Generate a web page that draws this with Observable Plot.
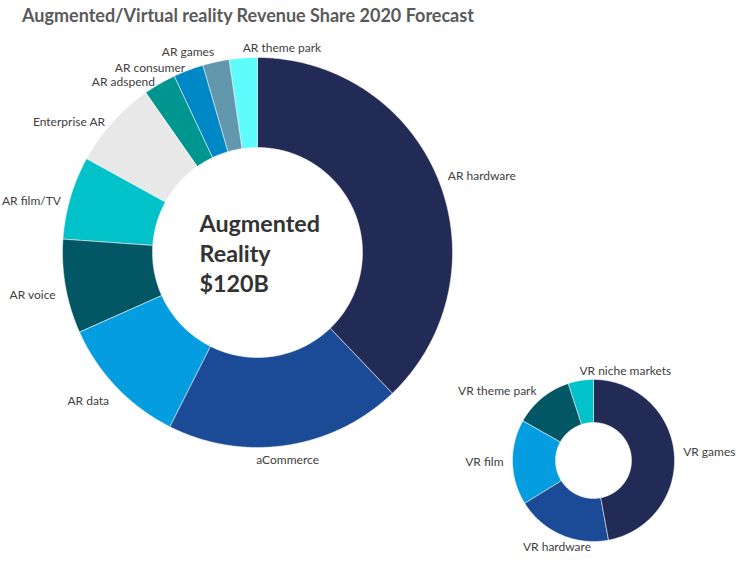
<!DOCTYPE html>
<html>
<head>
<meta charset="utf-8">
<script src="https://cdn.jsdelivr.net/npm/d3@7"></script>
<script src="https://cdn.jsdelivr.net/npm/@observablehq/plot@0.6"></script>
<style>
  html, body { margin: 0; padding: 0; background: #fff; }
  #title { font-family: Lato, "Open Sans", sans-serif; font-weight: bold; font-size: 18px; color: #5a5a5a;
           height: 30px; line-height: 31px; padding-left: 22px; white-space: nowrap; }
  #chart svg { display: block; }
</style>
</head>
<body>
<div id="title">Augmented/Virtual reality Revenue Share 2020 Forecast</div>
<div id="chart"></div>
<script>
// ---- data (revenue share, % of each market) ----
const arLabels = ["AR hardware", "aCommerce", "AR data", "AR voice", "AR film/TV", "Enterprise AR", "AR adspend", "AR consumer", "AR games", "AR theme park"];
const arShares = [37.9, 19.6, 10.9, 7.8, 6.9, 7.3, 2.7, 2.5, 2.2, 2.3];
const arColors = ["#222a56", "#1b4a97", "#049ddf", "#035664", "#00c2c8", "#e8e8e8", "#009690", "#0087c6", "#6297ad", "#5ffcfd"];

const vrLabels = ["VR games", "VR hardware", "VR film", "VR theme park", "VR niche markets"];
const vrShares = [47.1, 19.1, 17.0, 11.8, 5.0];
const vrColors = ["#222a56", "#1b4a97", "#049ddf", "#035664", "#00c2c8"];

const centerLines = ["Augmented", "Reality", "$120B"];

// ---- layout ----
const W = 752, H = 565, TOP = 30;
const AR = {cx: 257, cy: 252, R: 195, r: 105, gap: 10, endDy: 7};
const VR = {cx: 593, cy: 460, R: 81, r: 38, gap: 9, endDy: 0};
const FONT = "Lato, 'Open Sans', sans-serif";

function donut(labels, shares, colors, g) {
  const pie = d3.pie().sort(null).value(d => d)(shares);
  const slices = [], labelPts = [];
  pie.forEach((p, i) => {
    const a0 = p.startAngle, a1 = p.endAngle;
    const n = Math.max(4, Math.ceil((a1 - a0) / (Math.PI / 360)));
    const pts = [];
    for (let k = 0; k <= n; k++) {
      const a = a0 + (a1 - a0) * k / n;
      pts.push({x: g.cx + g.R * Math.sin(a), y: g.cy - g.R * Math.cos(a)});
    }
    for (let k = n; k >= 0; k--) {
      const a = a0 + (a1 - a0) * k / n;
      pts.push({x: g.cx + g.r * Math.sin(a), y: g.cy - g.r * Math.cos(a)});
    }
    slices.push({pts, color: colors[i]});
    const m = (a0 + a1) / 2, s = Math.sin(m), c = Math.cos(m);
    const rl = g.R + g.gap;
    let anchor, line, dy = 0;
    if (c < -0.85) { anchor = "middle"; line = "top"; }
    else if (s < -0.2) { anchor = "end"; line = "middle"; if (c < 0.95) dy = g.endDy; }
    else { anchor = "start"; line = "middle"; }
    labelPts.push({x: g.cx + rl * s, y: g.cy - rl * c + dy, text: labels[i], anchor, line});
  });
  return {slices, labelPts};
}

const ar = donut(arLabels, arShares, arColors, AR);
const vr = donut(vrLabels, vrShares, vrColors, VR);

const sliceMarks = [...ar.slices, ...vr.slices].map(s =>
  Plot.line(s.pts, {x: "x", y: "y", fill: s.color, stroke: "#ffffff", strokeWidth: 0.5, curve: "linear-closed"})
);

const allLabels = [...ar.labelPts, ...vr.labelPts];
const labelMarks = [];
for (const anchor of ["start", "end", "middle"]) {
  for (const line of ["top", "middle", "bottom"]) {
    const d = allLabels.filter(l => l.anchor === anchor && l.line === line);
    if (d.length) labelMarks.push(Plot.text(d, {x: "x", y: "y", text: "text", textAnchor: anchor, lineAnchor: line,
      fontSize: 12, fill: "#404040", fontFamily: FONT}));
  }
}

const chart = Plot.plot({
  width: W, height: H - TOP, margin: 0,
  style: {background: "#fff", fontFamily: FONT},
  x: {domain: [0, W], range: [0, W], axis: null},
  y: {domain: [TOP, H], range: [0, H - TOP], axis: null},
  marks: [
    ...sliceMarks,
    ...labelMarks,
    Plot.text([{x: AR.cx - 58, y: AR.cy, text: centerLines.join("\n")}], {
      x: "x", y: "y", text: "text", textAnchor: "start", lineAnchor: "middle", lineHeight: 1.28,
      fontSize: 23.3, fontWeight: "bold", fill: "#333333", fontFamily: FONT})
  ]
});
document.getElementById("chart").appendChild(chart);
</script>
</body>
</html>
